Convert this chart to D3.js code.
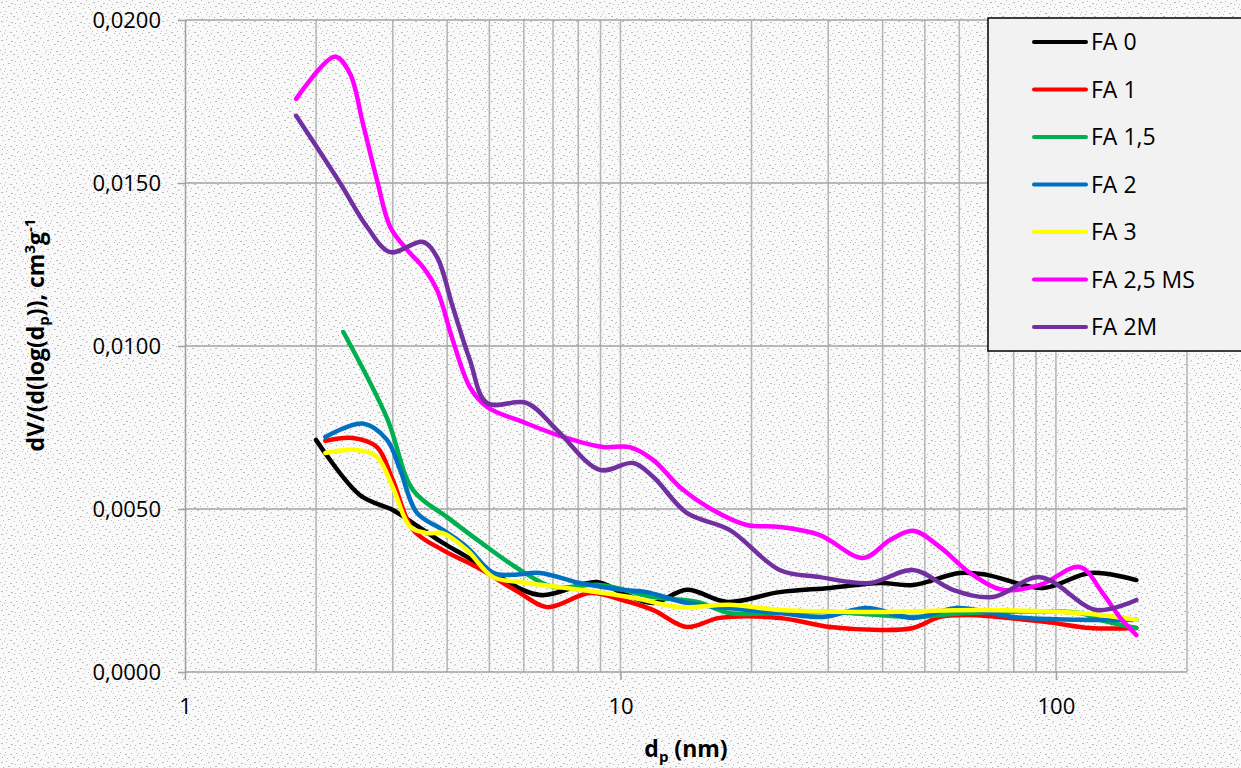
<!DOCTYPE html>
<html>
<head>
<meta charset="utf-8">
<script src="https://cdn.jsdelivr.net/npm/d3@7"></script>
<style>
  body { margin: 0; background: #f7f7f7; }
  svg { display: block; font-family: "Open Sans", "Liberation Sans", sans-serif; }
  .gridV line { stroke: #b4b4b4; stroke-width: 1.5; }
  .gridH line { stroke: #a3a3a3; stroke-width: 1.5; }
  .axis path, .axis line { stroke: #a0a0a0; stroke-width: 1.5; }
  .axis text { font-size: 22px; fill: #000; font-family: "Open Sans", sans-serif; }
</style>
</head>
<body>
<div id="chart"></div>
<script>
// series names and colours
var seriesNames = ["FA 0", "FA 1", "FA 1,5", "FA 2", "FA 3", "FA 2,5 MS", "FA 2M"];
var seriesColors = ["#000000", "#ff0000", "#00b050", "#0070c0", "#ffff00", "#ff00ff", "#7030a0"];

// pore diameter (nm) / dV/dlog(dp)
var fa0_d = [2.00, 2.52, 3.00, 3.34, 3.91, 4.44, 5.28, 6.53, 8.83, 10.1, 11.9, 14.2, 17.6, 23.2, 30.3, 39.4, 47.0, 60.2, 69.4, 93.4, 120, 153];
var fa0_v = [0.00712, 0.00543, 0.00497, 0.00457, 0.00396, 0.00353, 0.00291, 0.00236, 0.00276, 0.00242, 0.00212, 0.00252, 0.00215, 0.00245, 0.00258, 0.00273, 0.00267, 0.00304, 0.00298, 0.00258, 0.00304, 0.00282];

var fa1_d = [2.10, 2.43, 2.76, 3.00, 3.34, 3.91, 4.68, 5.88, 6.78, 8.51, 10.1, 11.9, 14.2, 16.9, 23.2, 30.3, 39.4, 47.0, 54.2, 62.5, 95.3, 120, 153];
var fa1_v = [0.00709, 0.00718, 0.00690, 0.00589, 0.00436, 0.00374, 0.00322, 0.00242, 0.00199, 0.00242, 0.00221, 0.00190, 0.00138, 0.00166, 0.00166, 0.00138, 0.00129, 0.00135, 0.00169, 0.00175, 0.00153, 0.00135, 0.00135];

var fa15_d = [2.31, 2.91, 3.34, 4.00, 4.76, 5.88, 7.00, 8.97, 11.9, 15.0, 17.8, 23.2, 30.3, 47.0, 62.5, 113.5, 126, 153];
var fa15_v = [0.01043, 0.00779, 0.00558, 0.00475, 0.00399, 0.00313, 0.00261, 0.00267, 0.00230, 0.00215, 0.00181, 0.00181, 0.00184, 0.00169, 0.00181, 0.00181, 0.00160, 0.00135];

var fa2_d = [2.10, 2.56, 2.91, 3.12, 3.41, 3.91, 4.44, 5.10, 5.66, 6.53, 8.07, 10.1, 11.5, 14.2, 23.2, 29.2, 36.8, 47.0, 59.3, 79.7, 113.5, 153];
var fa2_v = [0.00721, 0.00762, 0.00712, 0.00620, 0.00488, 0.00436, 0.00383, 0.00304, 0.00298, 0.00304, 0.00273, 0.00252, 0.00245, 0.00212, 0.00181, 0.00169, 0.00196, 0.00166, 0.00196, 0.00169, 0.00160, 0.00160];

var fa3_d = [2.10, 2.48, 2.76, 3.00, 3.29, 3.59, 3.91, 4.44, 5.10, 5.88, 8.07, 10.5, 13.7, 17.8, 23.2, 39.4, 66.9, 113.5, 153];
var fa3_v = [0.00672, 0.00681, 0.00660, 0.00567, 0.00445, 0.00426, 0.00426, 0.00374, 0.00291, 0.00276, 0.00252, 0.00230, 0.00199, 0.00206, 0.00190, 0.00184, 0.00190, 0.00181, 0.00160];

var fa25ms_d = [1.80, 2.21, 2.39, 2.56, 2.76, 2.96, 3.24, 3.52, 3.79, 4.12, 4.51, 4.94, 5.97, 7.38, 9.12, 10.5, 11.9, 13.7, 16.3, 19.5, 23.2, 28.7, 36.1, 41.6, 47.0, 54.2, 63.5, 75.6, 91.9, 113.5, 128, 140, 153];
var fa25ms_v = [0.01758, 0.01887, 0.01837, 0.01684, 0.01509, 0.01365, 0.01294, 0.01242, 0.01172, 0.01018, 0.00874, 0.00813, 0.00767, 0.00721, 0.00690, 0.00690, 0.00650, 0.00567, 0.00497, 0.00451, 0.00445, 0.00420, 0.00350, 0.00405, 0.00433, 0.00383, 0.00304, 0.00252, 0.00267, 0.00322, 0.00242, 0.00169, 0.00113];

var fa2m_d = [1.80, 2.27, 2.62, 2.96, 3.52, 3.79, 4.12, 4.51, 4.94, 6.10, 7.15, 8.97, 10.7, 11.9, 14.2, 17.8, 23.2, 28.7, 37.4, 47.0, 58.0, 71.7, 91.9, 124, 153];
var fa2m_v = [0.01706, 0.01500, 0.01365, 0.01288, 0.01319, 0.01273, 0.01120, 0.00957, 0.00825, 0.00825, 0.00742, 0.00620, 0.00641, 0.00598, 0.00488, 0.00436, 0.00313, 0.00291, 0.00273, 0.00313, 0.00252, 0.00230, 0.00291, 0.00190, 0.00221];

var xTicks = [1, 10, 100];
var yTicks = [0, 0.005, 0.010, 0.015, 0.020];
var xGrid = [2, 3, 4, 5, 6, 7, 8, 9, 10, 20, 30, 40, 50, 60, 70, 80, 90, 100, 200];

var allD = [fa0_d, fa1_d, fa15_d, fa2_d, fa3_d, fa25ms_d, fa2m_d];
var allV = [fa0_v, fa1_v, fa15_v, fa2_v, fa3_v, fa25ms_v, fa2m_v];

var W = 1241, H = 768;
var margin = {top: 20, right: 54, bottom: 96, left: 185};

var x = d3.scaleLog().domain([1, 200]).range([margin.left, W - margin.right]);
var y = d3.scaleLinear().domain([0, 0.02]).range([H - margin.bottom, margin.top]);

var locale = d3.formatLocale({decimal: ",", thousands: ".", grouping: [3], currency: ["", ""]});
var yFmt = locale.format(".4f");

var svg = d3.select("#chart").append("svg")
  .attr("width", W)
  .attr("height", H);

// paper texture: small tile of grey specks
var defs = svg.append("defs");
var pat = defs.append("pattern").attr("id", "tex")
  .attr("patternUnits", "userSpaceOnUse")
  .attr("width", 23).attr("height", 19);
pat.append("rect").attr("width", 23).attr("height", 19).attr("fill", "#f9f9f9");
var specks = [[1,2],[2,2],[6,1],[11,3],[12,3],[17,0],[20,4],[3,7],[8,6],[9,6],[14,8],[19,7],[21,9],
              [0,12],[5,11],[10,13],[11,13],[16,12],[22,14],[2,16],[7,17],[13,16],[14,16],[18,18],[4,14],[15,4]];
pat.selectAll("rect.s").data(specks).enter().append("rect")
  .attr("class", "s")
  .attr("x", function(d) { return d[0]; })
  .attr("y", function(d) { return d[1]; })
  .attr("width", 1).attr("height", 1)
  .attr("fill", "#b9b9b9");

svg.append("rect").attr("width", W).attr("height", H).attr("fill", "url(#tex)");

// grid
svg.append("g").attr("class", "gridV")
  .selectAll("line").data(xGrid).enter().append("line")
  .attr("x1", function(d) { return x(d); })
  .attr("x2", function(d) { return x(d); })
  .attr("y1", y(0.02))
  .attr("y2", y(0));

svg.append("g").attr("class", "gridH")
  .selectAll("line").data(yTicks.slice(1)).enter().append("line")
  .attr("x1", x(1))
  .attr("x2", x(200))
  .attr("y1", function(d) { return y(d); })
  .attr("y2", function(d) { return y(d); });

// axes
var xAxis = svg.append("g").attr("class", "axis")
  .attr("transform", "translate(0," + y(0) + ")")
  .call(d3.axisBottom(x).tickValues(xTicks).tickFormat(d3.format("d")).tickSize(8).tickSizeOuter(0).tickPadding(18));
xAxis.select(".domain").attr("d", "M" + x(1) + ",0H" + x(200));

var yAxis = svg.append("g").attr("class", "axis")
  .attr("transform", "translate(" + x(1) + ",0)")
  .call(d3.axisLeft(y).tickValues(yTicks).tickFormat(yFmt).tickSize(7).tickSizeOuter(0).tickPadding(17));

// lines
var line = d3.line()
  .x(function(p) { return x(p[0]); })
  .y(function(p) { return y(p[1]); })
  .curve(d3.curveCatmullRom.alpha(0.5));

for (var i = 0; i < seriesNames.length; i++) {
  var pts = allD[i].map(function(d, j) { return [d, allV[i][j]]; });
  svg.append("path")
    .datum(pts)
    .attr("fill", "none")
    .attr("stroke", seriesColors[i])
    .attr("stroke-width", 4.5)
    .attr("stroke-linecap", "round")
    .attr("stroke-linejoin", "round")
    .attr("d", line);
}

// legend
var lg = svg.append("g").attr("class", "legend");
lg.append("rect")
  .attr("x", 988).attr("y", 18)
  .attr("width", 270).attr("height", 333)
  .attr("fill", "#f2f2f2")
  .attr("stroke", "#000")
  .attr("stroke-width", 1.5);

var rows = lg.selectAll("g.row").data(seriesNames).enter().append("g")
  .attr("class", "row")
  .attr("transform", function(d, i) { return "translate(0," + (42 + i * 47.5) + ")"; });
rows.append("line")
  .attr("x1", 1034).attr("x2", 1086)
  .attr("stroke", function(d, i) { return seriesColors[i]; })
  .attr("stroke-width", 4)
  .attr("stroke-linecap", "round");
rows.append("text")
  .attr("x", 1091).attr("y", 8)
  .attr("font-size", 23)
  .text(function(d) { return d; });

// axis titles
var yt = svg.append("text")
  .attr("transform", "translate(44,335) rotate(-90)")
  .attr("text-anchor", "middle")
  .attr("font-weight", "bold")
  .attr("font-size", 23);
yt.append("tspan").text("dV/(d(log(d");
yt.append("tspan").attr("font-size", 15).attr("dy", 5).text("p");
yt.append("tspan").attr("dy", -5).text(")), cm");
yt.append("tspan").attr("font-size", 15).attr("dy", -9).text("3");
yt.append("tspan").attr("dy", 9).text("g");
yt.append("tspan").attr("font-size", 15).attr("dy", -9).text("-1");

var xt = svg.append("text")
  .attr("x", 686).attr("y", 757)
  .attr("text-anchor", "middle")
  .attr("font-weight", "bold")
  .attr("font-size", 23);
xt.append("tspan").text("d");
xt.append("tspan").attr("font-size", 15).attr("dy", 5).text("p");
xt.append("tspan").attr("dy", -5).text(" (nm)");
</script>
</body>
</html>
